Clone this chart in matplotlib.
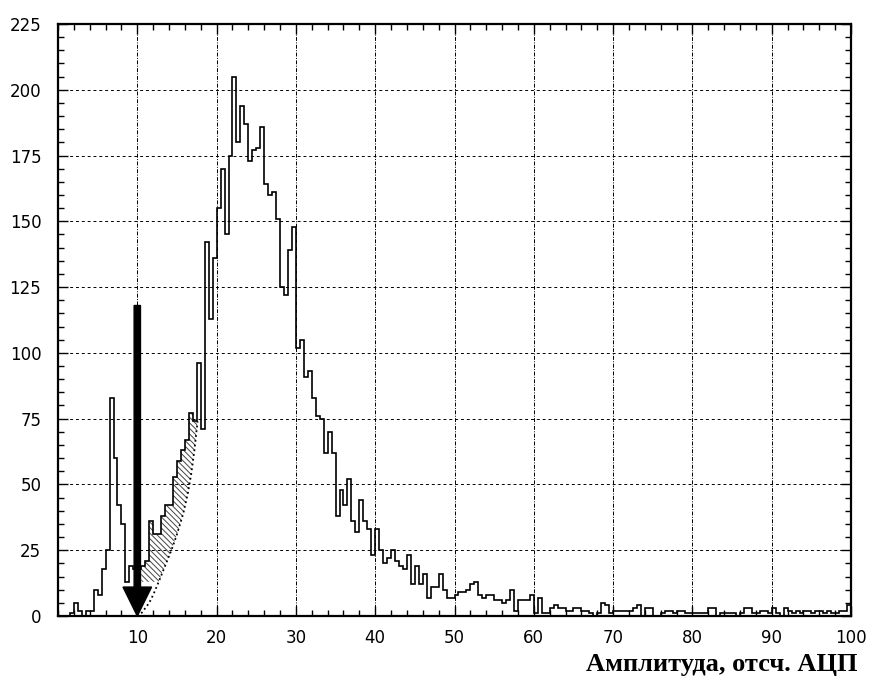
import matplotlib
matplotlib.use('Agg')
import matplotlib.pyplot as plt
from matplotlib.patches import Polygon
import numpy as np

plt.rcParams['hatch.linewidth'] = 0.7

# amplitude histogram, 0.5-wide bins from 0 to 100
bin_width = 0.5
counts_low = [0, 0, 0, 1, 5, 2, 0, 2, 2, 10,
              8, 18, 25, 83, 60, 42, 35, 13, 19, 18,
              18, 19, 21, 36, 31, 31, 38, 42, 42, 53,
              59, 63, 67, 77, 74, 96, 71, 142, 113, 136]
counts_peak = [155, 170, 145, 175, 205, 180, 194, 187, 173, 177,
               178, 186, 164, 160, 161, 151, 125, 122, 139, 148,
               102, 105, 91, 93, 83, 76, 75, 62, 70, 62,
               38, 48, 42, 52, 36, 32, 44, 36, 33, 23]
counts_mid = [33, 25, 20, 22, 25, 21, 19, 18, 23, 12,
              19, 12, 16, 7, 11, 11, 16, 10, 7, 7,
              8, 9, 9, 10, 12, 13, 8, 7, 8, 8,
              6, 6, 5, 6, 10, 2, 6, 6, 6, 8,
              1, 7, 1, 1, 3, 4, 3, 3, 2, 2,
              3, 3]
counts_tail = [2, 2, 1, 0, 1, 5, 4, 1,
               2, 2, 2, 2, 2, 3, 4, 0, 3, 3,
               0, 0, 1, 2, 2, 1, 2, 2, 1, 1,
               1, 1, 1, 1, 3, 3, 0, 1, 1, 1,
               1, 0, 1, 3, 3, 1, 1, 2, 2, 1,
               3, 1, 0, 3, 2, 1, 2, 1, 2, 2,
               1, 2, 2, 1, 2, 1, 1, 2, 2, 4]
counts = np.array(counts_low + counts_peak + counts_mid + counts_tail, dtype=float)
edges = np.arange(len(counts) + 1) * bin_width

# background curve under the hatched region
bg_x = [10.0, 10.5, 11.0, 11.5, 12.0, 12.7, 13.5, 14.3, 15.0, 15.8, 16.4, 16.8, 17.2, 17.6]
bg_y = [0, 1, 3, 5, 8, 13, 19, 25, 31, 39, 47, 54, 63, 74]
fill_start, fill_end, fill_floor = 10.5, 17.5, 13

# threshold arrow
arrow_x, arrow_top = 10, 118

fig = plt.figure(figsize=(8.72, 6.84), dpi=100)
ax = fig.add_axes([0.0665, 0.0994, 0.9095, 0.8656])

ax.stairs(counts, edges, color='black', lw=1.2, zorder=3)

# hatched signal region between histogram and background curve
i0 = int(round(fill_start / bin_width))
i1 = int(round(fill_end / bin_width))
top = []
for i in range(i0, i1):
    top.append((edges[i], counts[i]))
    top.append((edges[i + 1], counts[i]))
bottom = [(x, y) for x, y in zip(bg_x, bg_y) if y >= fill_floor][::-1]
poly = top + bottom + [(fill_start, fill_floor)]
ax.add_patch(Polygon(poly, closed=True, facecolor='none', edgecolor='#444444',
                     hatch='\\\\\\\\\\\\', lw=0, zorder=2))

ax.plot(bg_x, bg_y, color='black', ls=':', lw=1.3, zorder=3)

ax.arrow(arrow_x, arrow_top, 0, -arrow_top, width=0.8, head_width=3.6,
         head_length=11, length_includes_head=True, color='black', zorder=5)

ax.set_xlim(0, 100)
ax.set_ylim(0, 225)
ax.set_xticks(np.arange(10, 101, 10))
ax.set_xticks(np.arange(0, 101, 2), minor=True)
ax.set_yticks(np.arange(0, 226, 25))
ax.set_yticks(np.arange(0, 226, 5), minor=True)

for v in range(10, 100, 10):
    ax.axvline(v, color='black', ls=(0, (4, 1.5, 1, 1.5)), lw=0.7, zorder=1)
for v in range(25, 225, 25):
    ax.axhline(v, color='black', ls=(0, (3, 3)), lw=0.7, zorder=1)

ax.tick_params(which='both', direction='in', top=True, right=True, color='black')
ax.tick_params(which='major', length=7, width=1)
ax.tick_params(which='minor', length=4, width=1)
ax.tick_params(axis='y', which='major', pad=12, labelsize=12)
ax.tick_params(axis='x', which='major', pad=9, labelsize=12)
for s in ax.spines.values():
    s.set_linewidth(1.6)

fig.text(857 / 872, 1 - 665 / 684, 'Амплитуда, отсч. АЦП', ha='right', va='center',
         family='Liberation Serif', fontweight='bold', fontsize=19)

plt.savefig('out.png', dpi=100)
plt.close()
